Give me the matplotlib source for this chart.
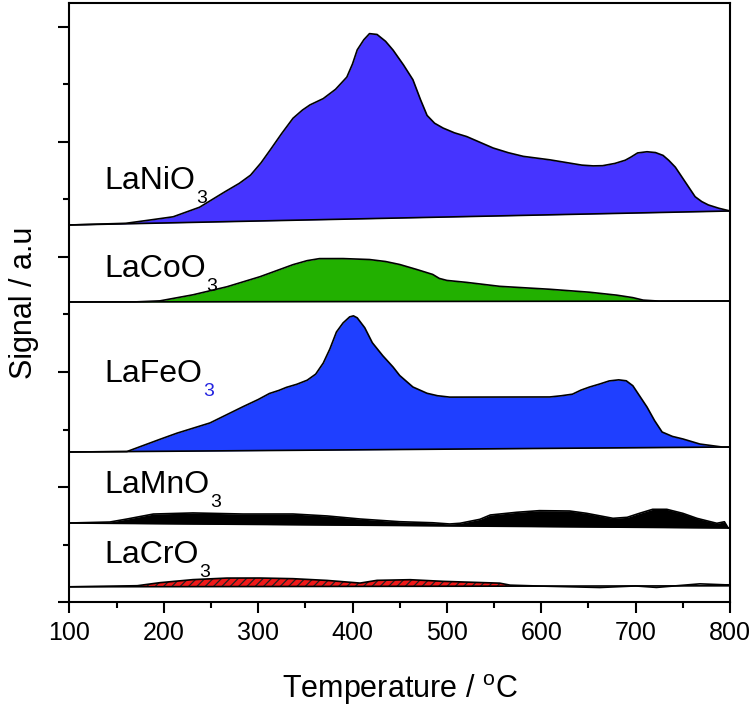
import numpy as np
import matplotlib
matplotlib.use('Agg')
import matplotlib.pyplot as plt
from matplotlib.ticker import MultipleLocator

plt.rcParams['font.family'] = ['Liberation Sans', 'DejaVu Sans']
plt.rcParams['mathtext.fontset'] = 'custom'
plt.rcParams['mathtext.rm'] = 'Liberation Sans'
plt.rcParams['hatch.linewidth'] = 0.9

# TPR traces, signal height above each baseline (a.u.)
ni_temp = [100, 160, 183, 210, 238, 265, 280, 292, 303, 313, 325, 337, 347, 355, 362, 369, 382,
           394, 400, 405, 412, 418, 426, 435, 443, 454, 464, 472, 479, 487, 496, 508, 521, 535,
           549, 565, 581, 595, 609, 626, 643, 655, 665, 678, 689, 695, 702, 712, 721, 729, 735,
           742, 749, 756, 763, 770, 777, 788, 800]
ni_sig = [0, 0.5, 3, 6, 15, 30, 38, 46, 58, 71, 87, 102, 110, 115, 118, 121, 130,
          142, 155, 169, 179, 185, 184, 177, 168, 153, 138, 118, 102, 94, 89, 84, 80, 74,
          68, 63, 59, 57, 55, 52, 49, 48, 48, 50, 53, 56, 60, 61, 60, 57, 52,
          45, 35, 25, 15, 10, 6.5, 3, 0]

co_temp = [100, 170, 196, 231, 267, 302, 337, 352, 365, 390, 418, 435, 450, 468, 485, 492, 500,
           521, 556, 609, 651, 680, 697, 708, 725, 800]
co_sig = [0, 0, 1, 7, 15, 25, 37, 41, 43, 43, 42, 40, 37, 32, 27, 23, 21,
          19, 15, 12, 9, 6, 3.5, 1, 0, 0]

fe_temp = [100, 161, 196, 214, 249, 284, 300, 312, 322, 330, 341, 352, 361, 369, 376, 383, 390,
           397, 401, 405, 413, 421, 432, 443, 450, 464, 479, 490, 503, 556, 609, 621, 633, 642,
           651, 662, 672, 682, 690, 697, 704, 712, 720, 728, 739, 750, 768, 792, 800]
fe_sig = [0, 0, 12, 18, 28, 44, 51, 57, 60, 63, 66, 70, 76, 87, 101, 118, 127,
          133, 134, 132, 122, 107, 94, 82.5, 74, 62.4, 56, 53.5, 52, 51.7, 51.4, 52.5, 54, 58,
          61, 64, 67, 68, 67, 62, 52, 40.6, 27, 15.5, 11, 8.4, 3.2, 0, 0]

mn_temp = [100, 143, 161, 189, 231, 284, 337, 373, 408, 450, 485, 503, 514, 535, 546, 574, 598,
           630, 648, 676, 691, 704, 718, 733, 750, 765, 786, 794, 798, 800]
mn_sig = [0, 1.3, 4.4, 9.6, 11, 10.3, 10.7, 9, 6.2, 3.8, 3, 1.9, 2.7, 6.8, 11.2, 14.1, 15.9,
          15.8, 13.6, 8.8, 9.9, 14, 18.1, 18.2, 14.3, 9.4, 4.6, 6.2, 0, 0]

cr_temp = [100, 172, 196, 231, 267, 302, 337, 373, 408, 426, 461, 496, 556, 567, 600, 662,
           700, 722, 768, 795, 800]
cr_sig = [0, 1, 4, 7, 8.5, 8.5, 7.8, 6, 3.3, 6, 6.6, 4.9, 3, 1, 0, -1.5, 0, -1.5, 2, 1, 1]

names = ['LaNiO', 'LaCoO', 'LaFeO', 'LaMnO', 'LaCrO']
temps = [ni_temp, co_temp, fe_temp, mn_temp, cr_temp]
signals = [ni_sig, co_sig, fe_sig, mn_sig, cr_sig]
# baseline level at 100 and 800 C for each stacked trace
base_start = [377, 300, 150, 79, 15.2]
base_end = [391, 301, 155, 74, 16.2]
label_y = [413, 325, 220, 109, 39]
fill_colors = ['#4634FF', '#22B000', '#1F3FFF', 'black', '#F01818']
sub_colors = ['black', 'black', '#2424E0', 'black', 'black']

fig = plt.figure(figsize=(7.56, 7.08), dpi=100)
ax = fig.add_axes([0.0917, 0.1497, 0.8740, 0.8461])

for i in range(5):
    t = np.array(temps[i], dtype=float)
    s = np.array(signals[i], dtype=float)
    base = np.interp(t, [100, 800], [base_start[i], base_end[i]])
    if i == 4:
        ax.fill_between(t, base, base + s, where=t <= 567, facecolor=fill_colors[i],
                        edgecolor='#222222', hatch='////', linewidth=0)
    else:
        ax.fill_between(t, base, base + s, color=fill_colors[i], linewidth=0)
    ax.plot(t, base + s, color='black', lw=1.2, solid_joinstyle='round')
    ax.plot([100, 800], [base_start[i], base_end[i]], color='black', lw=1.2)

    txt = ax.text(137, label_y[i], names[i], fontsize=23, ha='left', va='baseline')
    ax.annotate('3', xy=(1, 0), xycoords=txt, xytext=(0.5, 4), textcoords='offset points',
                fontsize=14, color=sub_colors[i], ha='left', va='top')

ax.set_xlim(100, 800)
ax.set_ylim(0, 599)
ax.xaxis.set_major_locator(MultipleLocator(100))
ax.xaxis.set_minor_locator(MultipleLocator(50))
ax.yaxis.set_major_locator(MultipleLocator(115))
ax.yaxis.set_minor_locator(MultipleLocator(57.5))
ax.tick_params(which='major', direction='out', length=8, width=1.5, labelsize=18, pad=6)
ax.tick_params(which='minor', direction='out', length=4, width=1.5)
ax.tick_params(axis='y', labelleft=False)
for sp in ax.spines.values():
    sp.set_linewidth(1.5)

ax.set_xlabel(r'Temperature / $^{\mathrm{o}}$C', fontsize=22, labelpad=19)
ax.set_ylabel('Signal / a.u', fontsize=22, labelpad=14)

fig.savefig('out.png', dpi=100)
